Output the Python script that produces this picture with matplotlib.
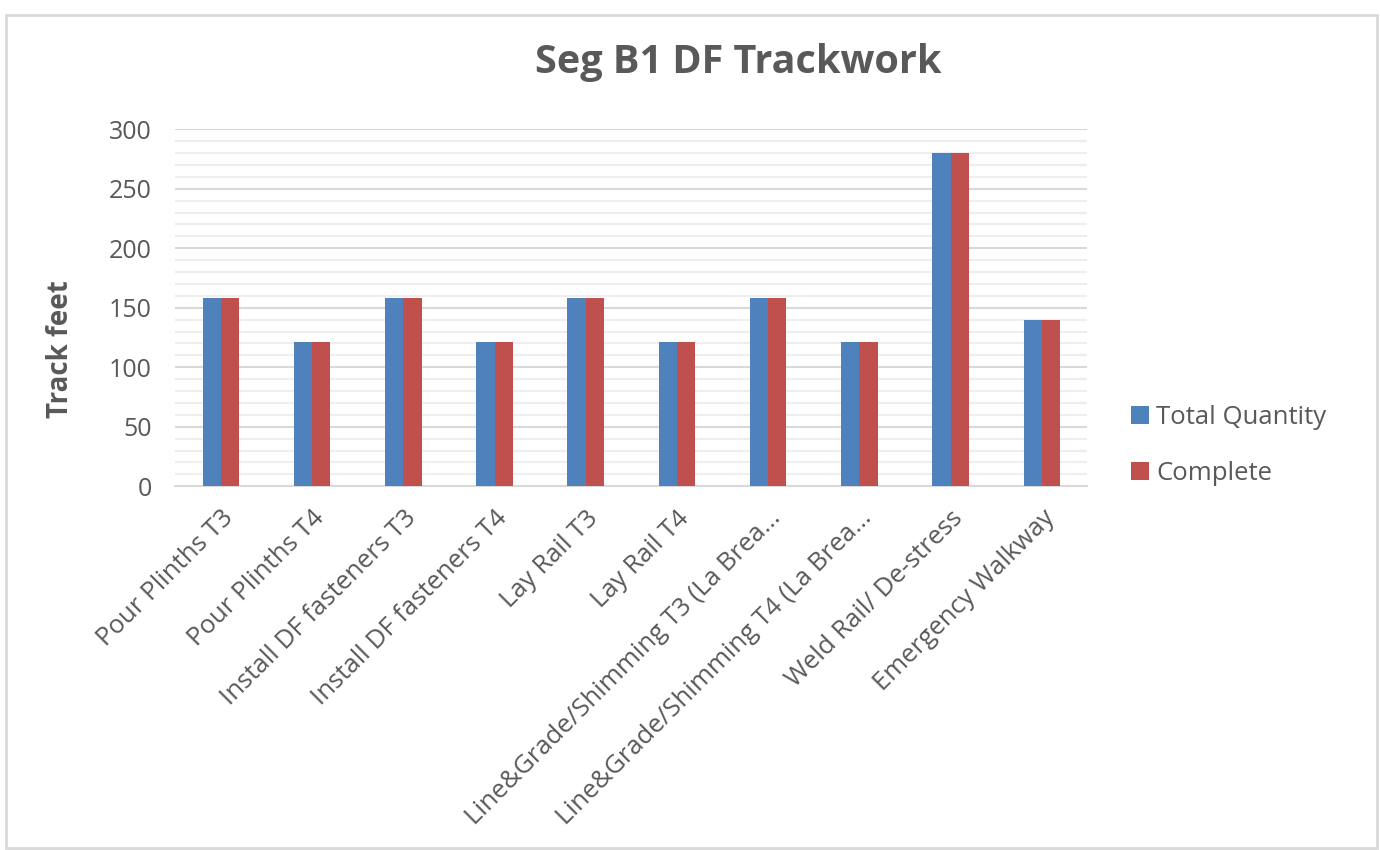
import matplotlib
matplotlib.use("Agg")
import matplotlib.pyplot as plt
import matplotlib.patches as mpatches
from matplotlib.ticker import MultipleLocator
import numpy as np

# Datos del grafico
categories = [
    "Pour Plinths T3",
    "Pour Plinths T4",
    "Install DF fasteners T3",
    "Install DF fasteners T4",
    "Lay Rail T3",
    "Lay Rail T4",
    "Line&Grade/Shimming T3 (La Brea...",
    "Line&Grade/Shimming T4 (La Brea...",
    "Weld Rail/ De-stress",
    "Emergency Walkway",
]
total_quantity = [158, 121, 158, 121, 158, 121, 158, 121, 280, 140]
complete = [158, 121, 158, 121, 158, 121, 158, 121, 280, 140]

series_names = ["Total Quantity", "Complete"]
colors = ["#4F81BD", "#C0504D"]
text_color = "#595959"

plt.rcParams['font.family'] = ['Open Sans', 'DejaVu Sans']

fig = plt.figure(figsize=(13.8, 8.5), dpi=100)
ax = fig.add_axes([0.127, 0.428, 0.661, 0.42])

x = np.arange(len(categories))
width = 0.2
ax.bar(x - width / 2, total_quantity, width, color=colors[0], label=series_names[0], zorder=3)
ax.bar(x + width / 2, complete, width, color=colors[1], label=series_names[1], zorder=3)

ax.set_xlim(-0.5, len(categories) - 0.5)
ax.set_ylim(0, 300)
ax.yaxis.set_major_locator(MultipleLocator(50))
ax.yaxis.set_minor_locator(MultipleLocator(10))
ax.grid(True, which='major', axis='y', color='#D9D9D9', linewidth=1.5, zorder=0)
ax.grid(True, which='minor', axis='y', color='#EEEEEE', linewidth=1.5, zorder=0)
ax.set_axisbelow(True)

for side in ['left', 'right', 'top']:
    ax.spines[side].set_visible(False)
ax.spines['bottom'].set_color('#D9D9D9')
ax.spines['bottom'].set_linewidth(1.5)

ax.tick_params(axis='both', which='both', length=0, colors=text_color)
ax.tick_params(axis='y', labelsize=18, pad=17)
ax.set_xticks(x)
ax.set_xticklabels(categories, rotation=45, ha='right', rotation_mode='anchor',
                   fontsize=18.5, color=text_color)
ax.tick_params(axis='x', pad=14)

ax.set_ylabel('Track feet', fontsize=20, fontweight='bold', color=text_color)
ax.yaxis.set_label_coords(-0.11, 0.385)
fig.text(0.535, 0.927, 'Seg B1 DF Trackwork', fontsize=28.5, fontweight='bold',
         color=text_color, ha='center', va='center')

leg = ax.legend(loc='center left', bbox_to_anchor=(1.022, 0.115), frameon=False,
                fontsize=18.5, handlelength=0.7, handleheight=0.7, handletextpad=0.3,
                labelspacing=1.2, labelcolor=text_color)

# Borde del area del grafico
border = mpatches.Rectangle((0.004, 0.002), 0.994, 0.98, transform=fig.transFigure,
                            fill=False, edgecolor='#D9D9D9', linewidth=2)
fig.patches.append(border)

fig.savefig('out.png', dpi=100, facecolor='white')
